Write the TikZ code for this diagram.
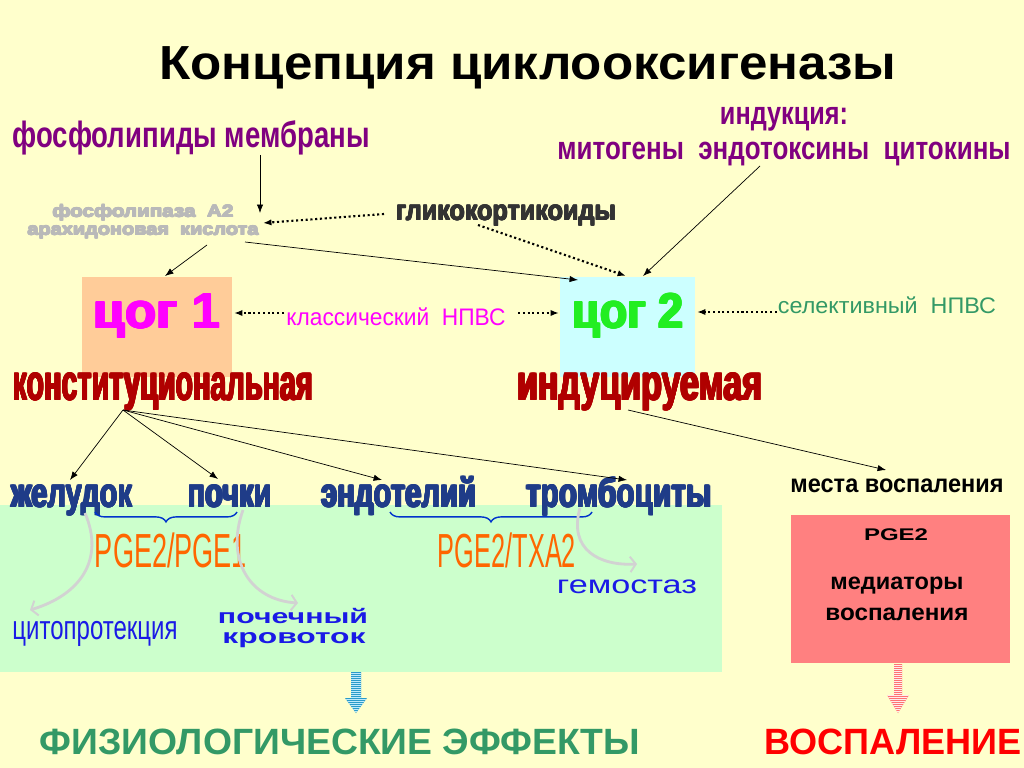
\documentclass[tikz,border=0pt]{standalone}
\usepackage{fontspec}
\setmainfont{Liberation Sans}
\usepackage{graphicx}
\usetikzlibrary{arrows.meta,decorations.pathreplacing}
\definecolor{bgc}{HTML}{FFFFCC}
\definecolor{gboxc}{HTML}{CCFFCC}
\definecolor{rboxc}{HTML}{FF8080}
\definecolor{c1c}{HTML}{FFCC99}
\definecolor{c2c}{HTML}{CCFFFF}
\definecolor{purp}{HTML}{800080}
\definecolor{magc}{HTML}{FF00FF}
\definecolor{selc}{HTML}{339966}
\definecolor{orgc}{HTML}{FF6600}
\definecolor{bluec}{HTML}{1A1AE6}
\definecolor{organc}{HTML}{1F3C88}
\definecolor{organo}{HTML}{5A8AD8}
\definecolor{konc}{HTML}{B00000}
\definecolor{bracec}{HTML}{0033CC}
\definecolor{cogg}{HTML}{22EE22}
\newsavebox\fwbox
\newlength\fwlen
\newcommand\fw[3]{\sbox\fwbox{\fontsize{#2}{#2}\selectfont #3}\setlength\fwlen{\wd\fwbox}\ifdim\fwlen>1pt\relax\scalebox{\fpeval{#1*0.71132/\fwlen}}[1]{\usebox\fwbox}\else\usebox\fwbox\fi}
\newsavebox\olbox
\newlength\olen
\newcommand\olc[2]{\rlap{\kern#1\raisebox{#2}{\usebox\olbox}}}
\newcommand\outl[3]{\setlength\olen{#2}\sbox\olbox{#3}{\color{#1}\olc{\olen}{0pt}\olc{-\olen}{0pt}\olc{0pt}{\olen}\olc{0pt}{-\olen}\olc{0.7\olen}{0.7\olen}\olc{-0.7\olen}{0.7\olen}\olc{0.7\olen}{-0.7\olen}\olc{-0.7\olen}{-0.7\olen}}\usebox\olbox}
\begin{document}
\begin{tikzpicture}[x=0.025cm,y=-0.025cm,
 lbl/.style={inner sep=0pt, anchor=base},
 box/.style={inner sep=0pt, anchor=north west, draw=none},
 arr/.style={-{Latex[length=6pt,width=4.5pt]}, line width=0.5pt, black},
 dotarr/.style={-{Latex[length=6pt,width=4.5pt]}, line width=1.5pt, dash pattern=on 1.5pt off 1.9pt, black},
 curv/.style={-{Straight Barb[length=4pt,width=11pt,line width=1.4pt]}, line width=2pt, draw=gray!35},
 brc/.style={decorate, decoration={brace, mirror, amplitude=7pt}, draw=bracec, line width=1pt},
]
\path[use as bounding box] (0,0) rectangle (1024,768);
\fill[bgc] (0,0) rectangle (1024,768);

% boxes
\node[box, fill=gboxc, minimum width=18.05cm, minimum height=4.175cm] (gbox) at (0,505) {};
\node[box, fill=rboxc, minimum width=5.475cm, minimum height=3.7cm] (rbox) at (791,515) {};
\node[box, fill=c1c, minimum width=3.75cm, minimum height=2.5cm] (c1box) at (82,277) {};
\node[box, fill=c2c, minimum width=3.375cm, minimum height=2.5cm] (c2box) at (560,277) {};

% title
\node[lbl] (title) at (528,80) {\bfseries\fw{737}{34pt}{Концепция циклооксигеназы}};

% top texts
\node[lbl, text=purp] (fm) at (191,148) {\bfseries\fw{357}{26pt}{фосфолипиды мембраны}};
\node[lbl, text=purp] (ind) at (784,125) {\bfseries\fw{128}{23pt}{индукция:}};
\node[lbl, text=purp] (mit) at (784,160) {\bfseries\fw{453}{23pt}{митогены\ \ эндотоксины\ \ цитокины}};
\node[lbl, text=gray!55] (fa) at (143,217) {\bfseries\outl{black!80}{0.4pt}{\fw{181}{12pt}{фосфолипаза\ \ А2}}};
\node[lbl, text=gray!55] (ak) at (143,235) {\bfseries\outl{black!80}{0.4pt}{\fw{231}{12pt}{арахидоновая\ \ кислота}}};
\node[lbl, text=black!80] (gk) at (506,220) {\bfseries\outl{gray!40}{0.35pt}{\fw{220}{19.5pt}{гликокортикоиды}}};

% cog
\node[lbl, text=magc] (c1) at (157,328) {\bfseries\outl{black}{0.7pt}{\fw{127}{35pt}{цог 1}}};
\node[lbl, text=cogg] (c2) at (628,328) {\bfseries\outl{green!35!black}{0.7pt}{\fw{111}{35pt}{цог 2}}};
\node[lbl, text=magc] (kn) at (396,325) {\fw{219}{17pt}{классический\ \ НПВС}};
\node[lbl, text=selc] (sn) at (887,313) {\fw{218}{16pt}{селективный\ \ НПВС}};
\node[lbl, text=konc] (kon) at (163,400) {\bfseries\outl{red!70!black}{0.6pt}{\fw{300}{35.6pt}{конституциональная}}};
\node[lbl, text=konc] (indu) at (640,400) {\bfseries\outl{red!70!black}{0.6pt}{\fw{245}{35.6pt}{индуцируемая}}};

% organs
\node[lbl, text=organc] (zh) at (72,507) {\bfseries\outl{organo}{0.6pt}{\fw{121}{29pt}{желудок}}};
\node[lbl, text=organc] (po) at (230,507) {\bfseries\outl{organo}{0.6pt}{\fw{84}{29pt}{почки}}};
\node[lbl, text=organc] (en) at (399,507) {\bfseries\outl{organo}{0.6pt}{\fw{155}{29pt}{эндотелий}}};
\node[lbl, text=organc] (tr) at (619,507) {\bfseries\outl{organo}{0.6pt}{\fw{185}{29pt}{тромбоциты}}};
\node[lbl] (mv) at (897,492) {\bfseries\fw{213}{18pt}{места воспаления}};

% prostaglandins
\node[lbl, text=orgc] (pg1) at (171,567) {\fw{152}{34pt}{PGE2/PGE1}};
\node[lbl, text=orgc] (pg2) at (507,567) {\fw{138}{34pt}{PGE2/TXA2}};
\node[lbl, text=bluec] (cit) at (95,639) {\fw{165}{24pt}{цитопротекция}};
\node[lbl, text=bluec] (poch) at (293,623) {\bfseries\fw{150}{14.5pt}{почечный}};
\node[lbl, text=bluec] (krov) at (294,643) {\bfseries\fw{143}{14.5pt}{кровоток}};
\node[lbl, text=bluec] (gem) at (627,593) {\fw{140}{18pt}{гемостаз}};

% red box texts
\node[lbl] (pge) at (896,540) {\bfseries\fw{64}{12pt}{PGE2}};
\node[lbl] (med) at (897,589) {\bfseries\fw{133}{16.5pt}{медиаторы}};
\node[lbl] (vos) at (897,620) {\bfseries\fw{143}{16.5pt}{воспаления}};

% bottom
\node[lbl, text=selc] (fiz) at (340,754) {\bfseries\fw{600}{26pt}{ФИЗИОЛОГИЧЕСКИЕ ЭФФЕКТЫ}};
\node[lbl, text=red] (vosp) at (893,754) {\bfseries\fw{257}{26pt}{ВОСПАЛЕНИЕ}};

% connector coordinates
\coordinate (fmS) at (260,155);
\coordinate (faN) at (260,213);
\coordinate (gkW) at (384,214);
\coordinate (faE) at (263,223);
\coordinate (akL) at (207,245);
\coordinate (c1N) at (165,276);
\coordinate (akR) at (245,242);
\coordinate (c2NW) at (578,280);
\coordinate (gkS) at (478,225);
\coordinate (c2N) at (626,276);
\coordinate (mitS) at (760,166);
\coordinate (c2NE) at (643,276);
\coordinate (knW) at (284,313);
\coordinate (c1E) at (234,313);
\coordinate (knE) at (518,313);
\coordinate (c2W) at (559,313);
\coordinate (snW) at (777,312);
\coordinate (c2E) at (697,312);
\coordinate (konS) at (123,410);
\coordinate (zhN) at (70,480);
\coordinate (poN) at (218,479);
\coordinate (enN) at (382,480);
\coordinate (trN) at (627,480);
\coordinate (induS) at (628,410);
\coordinate (mvN) at (886,470);

\draw[arr] (fmS) -- (faN);
\draw[dotarr] (gkW) -- (faE);
\draw[arr] (akL) -- (c1N);
\draw[arr] (akR) -- (c2NW);
\draw[dotarr] (gkS) -- (c2N);
\draw[arr] (mitS) -- (c2NE);
\draw[dotarr] (knW) -- (c1E);
\draw[dotarr] (knE) -- (c2W);
\draw[dotarr] (snW) -- (c2E);
\draw[arr] (konS) -- (zhN);
\draw[arr] (konS) -- (poN);
\draw[arr] (konS) -- (enN);
\draw[arr] (konS) -- (trN);
\draw[arr] (induS) -- (mvN);

% braces
\coordinate (b1a) at (95,512);
\coordinate (b1b) at (237,512);
\coordinate (b2a) at (390,512);
\coordinate (b2b) at (592,512);
\draw[brc] (b1a) -- (b1b);
\draw[brc] (b2a) -- (b2b);

% curved grey arrows
\coordinate (cz) at (85,513);
\coordinate (czE) at (30,610);
\coordinate (cp) at (243,510);
\coordinate (cpE) at (298,603);
\coordinate (ct) at (580,508);
\coordinate (ctE) at (637,564);
\draw[curv] (cz) .. controls (105,560) and (80,595) .. (czE);
\draw[curv] (cp) .. controls (225,560) and (250,600) .. (cpE);
\draw[curv] (ct) .. controls (568,550) and (600,566) .. (ctE);

% striped arrows
\begin{scope}
\clip (351,672) -- (361,672) -- (361,698) -- (367,698) -- (356,713) -- (345,698) -- (351,698) -- cycle;
\fill[cyan!60!teal] (340,670) rectangle (372,715);
\foreach \yy in {673,675,...,713} \draw[cyan!25, line width=0.45pt] (340,\yy) -- (372,\yy);
\end{scope}
\begin{scope}
\clip (894,664) -- (902,664) -- (902,695) -- (909,695) -- (898,713) -- (887,695) -- (894,695) -- cycle;
\fill[red!40!pink] (880,660) rectangle (915,715);
\foreach \yy in {665,667,...,713} \draw[white!70!pink, line width=0.45pt] (880,\yy) -- (915,\yy);
\end{scope}
\end{tikzpicture}
\end{document}
